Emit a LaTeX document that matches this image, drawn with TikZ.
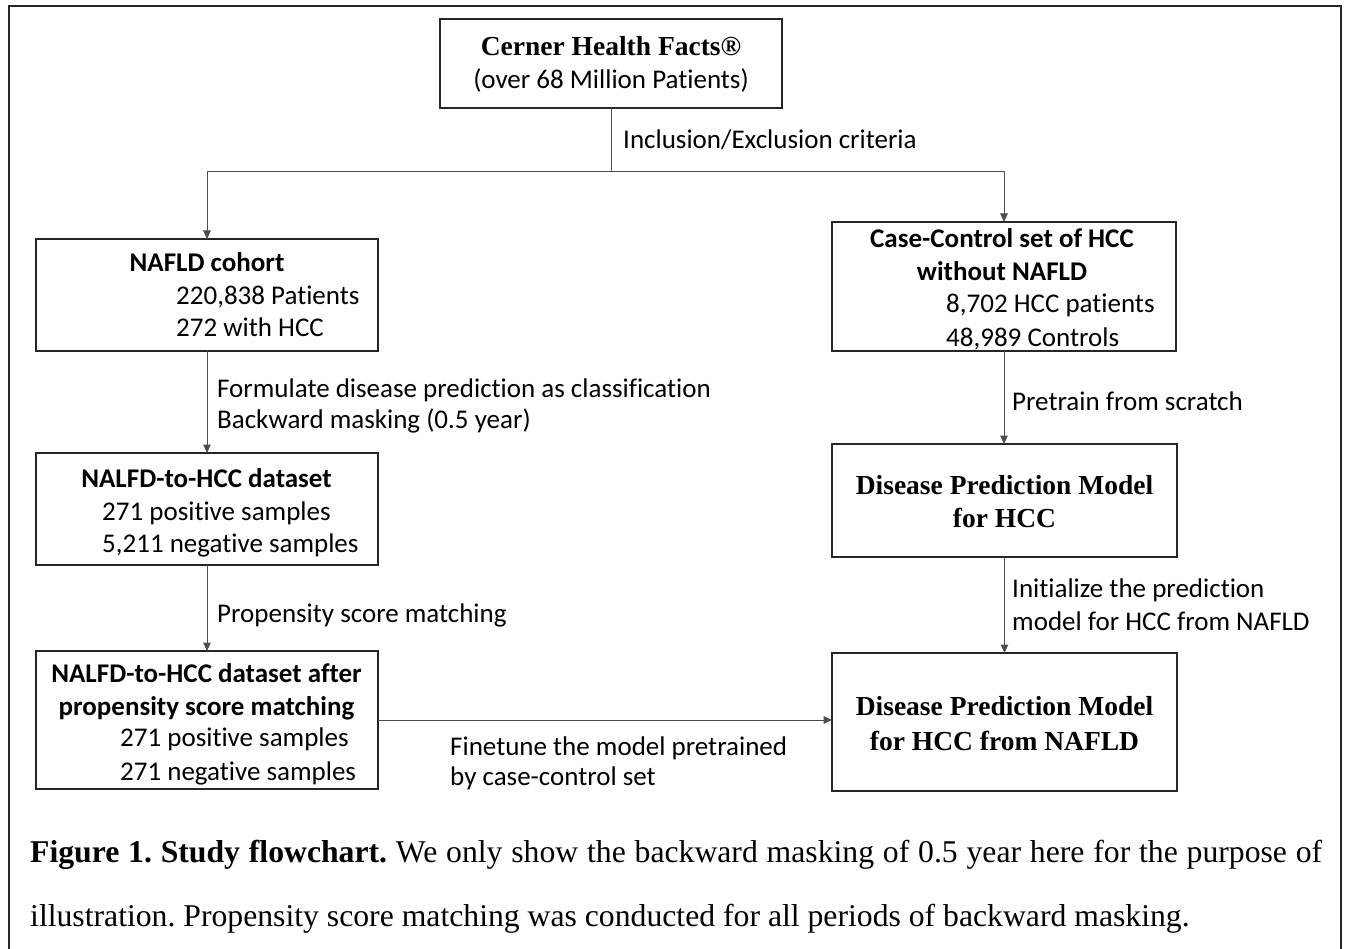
\documentclass[tikz,border=0pt]{standalone}
\usepackage{fontspec}
\setmainfont{Liberation Serif}
\newfontfamily\carl[Ligatures={NoCommon,NoRare,NoContextual}]{Carlito}
\usetikzlibrary{arrows.meta}
\definecolor{boxc}{HTML}{262626}
\definecolor{linec}{HTML}{4D4D4D}
\frenchspacing
\begin{document}
\begin{tikzpicture}[x=1pt,y=-1pt,
  box/.style={draw=boxc,line width=1.4pt,inner sep=0pt,outer sep=0pt},
  conn/.style={draw=linec,line width=1pt},
  arr/.style={conn,-{Triangle[length=8.5pt,width=7.5pt]}},
  lab/.style={font=\carl\fontsize{27}{33}\selectfont,inner sep=0pt,anchor=base west},
  labc/.style={font=\carl\fontsize{27}{33}\selectfont,inner sep=0pt,anchor=base},
  boldc/.style={font=\carl\bfseries\fontsize{27}{33}\selectfont,inner sep=0pt,anchor=base},
  tmb/.style={font=\bfseries\fontsize{27.5}{33}\selectfont,inner sep=0pt,anchor=base},
  capt/.style={font=\fontsize{31.7}{36}\selectfont,inner sep=0pt,anchor=base west}]
\useasboundingbox (0,0) rectangle (1346,949);
\fill[white] (0,0) rectangle (1346,949);
% outer frame
\draw[boxc,line width=1.5pt] (9,949) -- (9,6) -- (1341,6) -- (1341,949);

% boxes
\node[box,minimum width=342pt,minimum height=89pt] (top) at (611,63.5) {};
\node[box,minimum width=342pt,minimum height=112pt] (nafld) at (207,295) {};
\node[box,minimum width=344pt,minimum height=129pt] (cc) at (1004,286.5) {};
\node[box,minimum width=342pt,minimum height=112pt] (ntoh) at (207,509) {};
\node[box,minimum width=345pt,minimum height=113pt] (dpmh) at (1004.5,500.5) {};
\node[box,minimum width=342pt,minimum height=138pt] (psm) at (207,720) {};
\node[box,minimum width=345pt,minimum height=138pt] (dpmn) at (1004.5,722) {};

% texts in boxes
\node[tmb] (t1) at (611,56) {Cerner Health Facts\textregistered};
\node[labc] (t2) at (611,89) {(over 68 Million Patients)};

\node[boldc] (t3) at (207,272) {NAFLD cohort};
\node[lab] (t4) at (176,305) {220,838 Patients};
\node[lab] (t5) at (176,337) {272 with HCC};

\node[boldc] (t6) at (1002,248) {Case-Control set of HCC};
\node[boldc] (t7) at (1002,281) {without NAFLD};
\node[lab] (t8) at (946,313) {8,702 HCC patients};
\node[lab] (t9) at (946,346) {48,989 Controls};

\node[boldc] (t10) at (206.5,487) {NALFD-to-HCC dataset};
\node[lab] (t11) at (102,520) {271 positive samples};
\node[lab] (t12) at (102,552) {5,211 negative samples};

\node[tmb] (t13) at (1004.5,494) {Disease Prediction Model};
\node[tmb] (t14) at (1004.5,527) {for HCC};

\node[boldc] (t15) at (206.5,682) {NALFD-to-HCC dataset after};
\node[boldc] (t16) at (206.5,715) {propensity score matching};
\node[lab] (t17) at (120,746) {271 positive samples};
\node[lab] (t18) at (120,780) {271 negative samples};

\node[tmb] (t19) at (1004.5,715) {Disease Prediction Model};
\node[tmb] (t20) at (1004.5,750) {for HCC from NAFLD};

% connectors
\coordinate (split) at (611,172);
\draw[conn] (top.south) -- (split);
\draw[arr] (split) -| (nafld.north);
\draw[arr] (split) -| (cc.north);
\draw[arr] (nafld.south) -- (ntoh.north);
\draw[arr] (ntoh.south) -- (psm.north);
\draw[arr] (cc.south) -- (cc.south |- dpmh.north);
\draw[arr] (dpmh.south) -- (dpmn.north);
\draw[arr] (psm.east) -- (psm.east -| dpmn.west);

% connector labels
\node[lab] (l1) at (623,149) {Inclusion/Exclusion criteria};
\node[lab] (l2) at (217,397) {Formulate disease prediction as classification};
\node[lab] (l3) at (217,428) {Backward masking (0.5 year)};
\node[lab] (l4) at (1012,410) {Pretrain from scratch};
\node[lab] (l5) at (217,622) {Propensity score matching};
\node[lab] (l6) at (1012,597) {Initialize the prediction};
\node[lab] (l7) at (1012,630) {model for HCC from NAFLD};
\node[lab] (l8) at (450,755) {Finetune the model pretrained};
\node[lab] (l9) at (450,785) {by case-control set};

% caption
\node[capt] (c1) at (30,862) {\hbox to 1292pt{\textbf{Figure 1. Study flowchart.} We only show the backward masking of 0.5 year here for the purpose of}};
\node[capt] (c2) at (30,926) {illustration. Propensity score matching was conducted for all periods of backward masking.};
\end{tikzpicture}
\end{document}
